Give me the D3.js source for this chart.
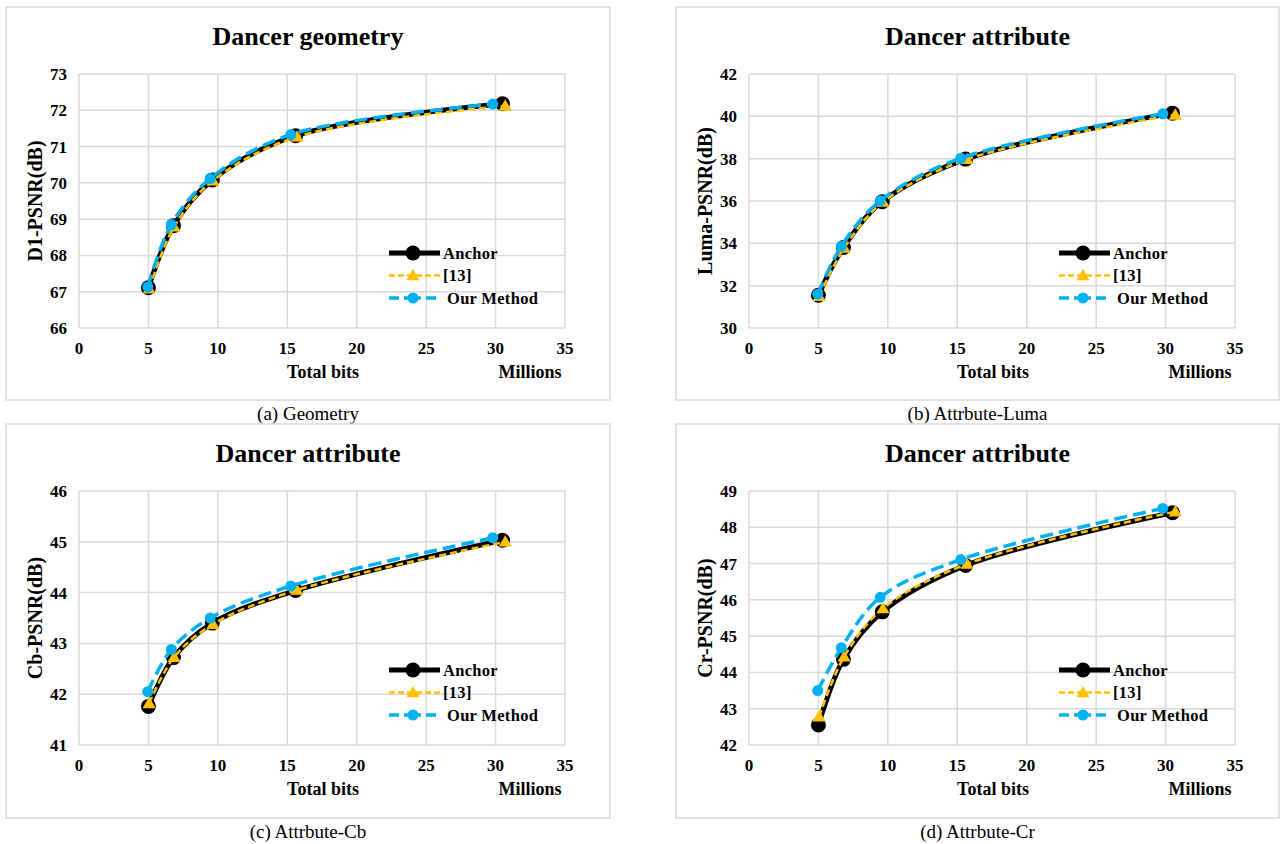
<!DOCTYPE html>
<html>
<head>
<meta charset="utf-8">
<script src="https://cdn.jsdelivr.net/npm/d3@7/dist/d3.min.js"></script>
<style>
  body { margin: 0; background: #fff; }
  text { font-family: "Liberation Serif", "Times New Roman", serif; }
</style>
</head>
<body>
<div id="chart"></div>
<script>
// ---------- Data ----------
const seriesNames = ["Anchor", "[13]", "Our Method"];

// total bits (millions)
const bitsAnchor = [5.0, 6.8, 9.6, 15.6, 30.5];
const bitsRef13  = [5.05, 6.85, 9.65, 15.7, 30.7];
const bitsOurs   = [4.95, 6.65, 9.45, 15.25, 29.8];

const geomAnchor = [67.11, 68.82, 70.08, 71.30, 72.18];
const geomRef13  = [67.08, 68.79, 70.06, 71.27, 72.12];
const geomOurs   = [67.13, 68.85, 70.12, 71.33, 72.17];

const lumaAnchor = [31.55, 33.80, 35.97, 37.98, 40.15];
const lumaRef13  = [31.50, 33.78, 35.95, 37.97, 40.07];
const lumaOurs   = [31.60, 33.86, 36.01, 38.02, 40.12];

const cbAnchor = [41.76, 42.72, 43.40, 44.04, 45.03];
const cbRef13  = [41.82, 42.73, 43.38, 44.05, 45.00];
const cbOurs   = [42.05, 42.88, 43.50, 44.13, 45.08];

const crAnchor = [42.55, 44.36, 45.67, 46.95, 48.40];
const crRef13  = [42.78, 44.43, 45.76, 46.99, 48.43];
const crOurs   = [43.50, 44.68, 46.07, 47.11, 48.52];

const xTicks = [0, 5, 10, 15, 20, 25, 30, 35];
const titles = ["Dancer geometry", "Dancer attribute", "Dancer attribute", "Dancer attribute"];
const yLabels = ["D1-PSNR(dB)", "Luma-PSNR(dB)", "Cb-PSNR(dB)", "Cr-PSNR(dB)"];
const captions = ["(a) Geometry", "(b) Attrbute-Luma", "(c) Attrbute-Cb", "(d) Attrbute-Cr"];
const yTickSets = [
  [66, 67, 68, 69, 70, 71, 72, 73],
  [30, 32, 34, 36, 38, 40, 42],
  [41, 42, 43, 44, 45, 46],
  [42, 43, 44, 45, 46, 47, 48, 49]
];
const panelValues = [
  [geomAnchor, geomRef13, geomOurs],
  [lumaAnchor, lumaRef13, lumaOurs],
  [cbAnchor, cbRef13, cbOurs],
  [crAnchor, crRef13, crOurs]
];
const seriesBits = [bitsAnchor, bitsRef13, bitsOurs];

// ---------- Layout ----------
const boxes = [
  { x: 6, y: 7, w: 604, h: 393 },
  { x: 676, y: 7, w: 603, h: 393 },
  { x: 6, y: 424, w: 604, h: 394 },
  { x: 676, y: 424, w: 603, h: 394 }
];
const plotW = 486, plotH = 254;
const grid = "#d9d9d9";
const styles = [
  { color: "#000000", width: 5, dash: null, marker: "circle", r: 7.5 },
  { color: "#FFC000", width: 2.5, dash: "7,4", marker: "triangle", r: 6 },
  { color: "#00B0F0", width: 3.5, dash: "13,6", marker: "circle", r: 5.5 }
];
const legendDash = [null, "6,3", "10,5,17,5,10"];

const svg = d3.select("#chart").append("svg")
  .attr("width", 1281)
  .attr("height", 844)
  .style("background", "#fff");

function drawMarker(g, s, cx, cy) {
  if (s.marker === "circle") {
    g.append("circle").attr("cx", cx).attr("cy", cy).attr("r", s.r).attr("fill", s.color);
  } else {
    g.append("path")
      .attr("d", d3.symbol().type(d3.symbolTriangle).size(75)())
      .attr("transform", `translate(${cx},${cy + 1})`)
      .attr("fill", s.color);
  }
}

boxes.forEach((b, pi) => {
  const g = svg.append("g");

  // outer frame
  g.append("rect")
    .attr("x", b.x).attr("y", b.y).attr("width", b.w).attr("height", b.h)
    .attr("fill", "#fff").attr("stroke", grid).attr("stroke-width", 1.5);

  const left = b.x + 73, top = b.y + 67;
  const yTicks = yTickSets[pi];

  const x = d3.scaleLinear().domain([0, 35]).range([left, left + plotW]);
  const y = d3.scaleLinear().domain([yTicks[0], yTicks[yTicks.length - 1]]).range([top + plotH, top]);

  // title
  g.append("text")
    .attr("x", b.x + b.w / 2).attr("y", b.y + 38)
    .attr("text-anchor", "middle")
    .style("font-size", "26px").style("font-weight", "bold")
    .text(titles[pi]);

  // grid lines
  g.append("g").selectAll("line").data(yTicks).join("line")
    .attr("x1", left).attr("x2", left + plotW)
    .attr("y1", d => y(d)).attr("y2", d => y(d))
    .attr("stroke", grid).attr("stroke-width", 1.5);
  g.append("g").selectAll("line").data(xTicks).join("line")
    .attr("x1", d => x(d)).attr("x2", d => x(d))
    .attr("y1", top).attr("y2", top + plotH)
    .attr("stroke", grid).attr("stroke-width", 1.5);

  // tick labels
  g.append("g").selectAll("text").data(yTicks).join("text")
    .attr("x", left - 12).attr("y", d => y(d))
    .attr("dy", "0.35em")
    .attr("text-anchor", "end")
    .style("font-size", "17px").style("font-weight", "bold")
    .text(d => d);
  g.append("g").selectAll("text").data(xTicks).join("text")
    .attr("x", d => x(d)).attr("y", top + plotH + 20)
    .attr("dy", "0.35em")
    .attr("text-anchor", "middle")
    .style("font-size", "17px").style("font-weight", "bold")
    .text(d => d);

  // axis titles
  g.append("text")
    .attr("x", left + 244).attr("y", top + plotH + 44)
    .attr("dy", "0.35em").attr("text-anchor", "middle")
    .style("font-size", "18px").style("font-weight", "bold")
    .text("Total bits");
  g.append("text")
    .attr("x", left + 451).attr("y", top + plotH + 44)
    .attr("dy", "0.35em").attr("text-anchor", "middle")
    .style("font-size", "18px").style("font-weight", "bold")
    .text("Millions");
  g.append("text")
    .attr("transform", `translate(${b.x + 29},${top + plotH / 2}) rotate(-90)`)
    .attr("dy", "0.35em").attr("text-anchor", "middle")
    .style("font-size", "20px").style("font-weight", "bold")
    .text(yLabels[pi]);

  // caption
  g.append("text")
    .attr("x", b.x + b.w / 2).attr("y", b.y + b.h + 20)
    .attr("text-anchor", "middle")
    .style("font-size", "19px")
    .text(captions[pi]);

  // series
  const line = d3.line()
    .x(d => x(d[0])).y(d => y(d[1]))
    .curve(d3.curveCatmullRom.alpha(0.5));

  panelValues[pi].forEach((vals, si) => {
    const s = styles[si];
    const pts = vals.map((v, i) => [seriesBits[si][i], v]);
    g.append("path")
      .datum(pts)
      .attr("d", line)
      .attr("fill", "none")
      .attr("stroke", s.color)
      .attr("stroke-width", s.width)
      .attr("stroke-dasharray", s.dash);
    pts.forEach(p => drawMarker(g, s, x(p[0]), y(p[1])));
  });

  // legend
  const lx = left + 310, ly = top + 179;
  seriesNames.forEach((name, si) => {
    const s = styles[si];
    const yy = ly + si * 22.5;
    const lg = g.append("g");
    lg.append("line")
      .attr("x1", lx).attr("x2", si === 2 ? lx + 47 : lx + 51)
      .attr("y1", yy).attr("y2", yy)
      .attr("stroke", s.color).attr("stroke-width", s.width)
      .attr("stroke-dasharray", legendDash[si]);
    drawMarker(lg, s, lx + 24, yy);
    lg.append("text")
      .attr("x", si === 2 ? lx + 58 : lx + 54).attr("y", yy)
      .attr("dy", "0.35em")
      .style("font-size", "16.5px").style("font-weight", "bold")
      .style("letter-spacing", "0.3px")
      .text(name);
  });
});
</script>
</body>
</html>
